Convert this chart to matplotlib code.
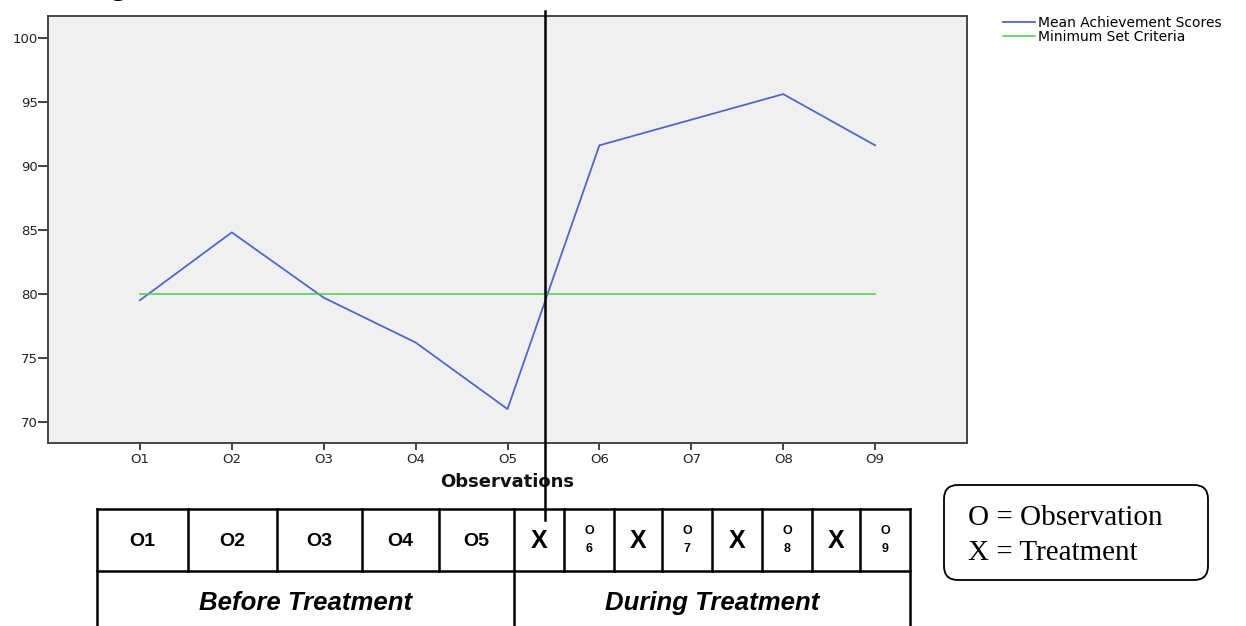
import numpy as np
import matplotlib
matplotlib.use("Agg")
import matplotlib.pyplot as plt
from matplotlib.patches import FancyBboxPatch
from matplotlib.transforms import blended_transform_factory

# data
obs_labels = ["O1", "O2", "O3", "O4", "O5", "O6", "O7", "O8", "O9"]
mean_scores = [79.5, 84.8, 79.7, 76.2, 71.0, 91.6, 93.6, 95.6, 91.6]
criteria = [80, 80, 80, 80, 80, 80, 80, 80, 80]
y_ticks = [70, 75, 80, 85, 90, 95, 100]

# design table below the chart
row1_cells = ["O1", "O2", "O3", "O4", "O5", "X", ("O", "6"), "X", ("O", "7"),
              "X", ("O", "8"), "X", ("O", "9")]
row2_cells = ["Before Treatment", "During Treatment"]
key_lines = ["O = Observation", "X = Treatment"]

W, H = 1246, 626
fig = plt.figure(figsize=(W / 100, H / 100), dpi=100)
ax = fig.add_axes([48 / W, 1 - 443 / H, (967 - 48) / W, (443 - 16) / H])
ax.set_facecolor("#f0f0f0")

x = np.arange(1, len(obs_labels) + 1)
l1, = ax.plot(x, mean_scores, color="#4f69c6", lw=1.3)
l2, = ax.plot(x, criteria, color="#4fc84f", lw=1.1)

ax.set_xlim(0, 10)
ax.set_ylim(68.35, 101.7)
ax.set_xticks(x)
ax.set_xticklabels(obs_labels)
ax.set_yticks(y_ticks)
for s in ax.spines.values():
    s.set_color("#444444")
    s.set_linewidth(1.4)
ax.tick_params(axis="y", direction="out", length=7, width=1.4, color="#444444",
               labelsize=9.5, pad=0.5, labelcolor="#222222")
ax.tick_params(axis="x", direction="out", length=5, width=1.4, color="#444444",
               labelsize=9.5, pad=2, labelcolor="#222222")
ax.set_xlabel("Observations", fontsize=13, fontweight="bold", va="center",
              color="#111111")
ax.xaxis.set_label_coords(0.5, -0.092)

fig.legend([l1, l2], ["Mean Achievement Scores", "Minimum Set Criteria"],
           loc="upper left", bbox_to_anchor=(1003 / W, 1 - 16 / H),
           frameon=False, fontsize=10, handlelength=2.3, handletextpad=0.2,
           labelspacing=0.0, borderpad=0, borderaxespad=0)

# treatment start line, crosses the plot and runs into the table
split_x = 5.41
tr = blended_transform_factory(ax.transData, fig.transFigure)
ax.plot([split_x, split_x], [1 - 11 / H, 1 - 520 / H], color="black", lw=1.8,
        transform=tr, clip_on=False, zorder=5)

# overlay in pixel units for the table and key box
ov = fig.add_axes([0, 0, 1, 1], zorder=-1)
ov.set_xlim(0, W)
ov.set_ylim(H, 0)
ov.axis("off")

cols = [97, 188, 277, 362, 439, 514, 564, 614, 662, 712, 762, 812, 860, 910]
top, mid, bot = 509, 571, 630
lw = 1.8
ov.plot([cols[0], cols[-1]], [top, top], color="black", lw=lw)
ov.plot([cols[0], cols[-1]], [mid, mid], color="black", lw=lw)
for c in cols:
    if c in (cols[0], cols[5], cols[-1]):
        ov.plot([c, c], [top, bot], color="black", lw=lw)
    else:
        ov.plot([c, c], [top, mid], color="black", lw=lw)

cy = (top + mid) / 2
for i, cell in enumerate(row1_cells):
    cx = (cols[i] + cols[i + 1]) / 2
    if isinstance(cell, tuple):
        ov.text(cx, cy - 9, cell[0], ha="center", va="center", fontsize=9,
                fontweight="bold", family="Liberation Sans")
        ov.text(cx, cy + 9, cell[1], ha="center", va="center", fontsize=9,
                fontweight="bold", family="Liberation Sans")
    elif cell == "X":
        ov.text(cx, cy + 1, cell, ha="center", va="center", fontsize=18,
                fontweight="bold", family="Liberation Sans")
    else:
        ov.text(cx, cy + 1, cell, ha="center", va="center", fontsize=14,
                fontweight="bold", family="Liberation Sans")

ov.text((cols[0] + cols[5]) / 2, 603, row2_cells[0], ha="center", va="center",
        fontsize=18.5, fontweight="bold", style="italic", family="Liberation Sans")
ov.text((cols[5] + cols[-1]) / 2, 603, row2_cells[1], ha="center", va="center",
        fontsize=18.5, fontweight="bold", style="italic", family="Liberation Sans")

box = FancyBboxPatch((944, 485), 264, 95, boxstyle="round,pad=0,rounding_size=14",
                     fc="white", ec="black", lw=1.3)
ov.add_patch(box)
ov.text(968, 518, key_lines[0], ha="left", va="center", fontsize=21,
        family="Liberation Serif")
ov.text(968, 553, key_lines[1], ha="left", va="center", fontsize=21,
        family="Liberation Serif")

# cut-off caption fragment at the very top
fig.text(118 / W, 1 + 6 / H, "g", ha="center", va="baseline", fontsize=22,
         fontweight="bold", family="Liberation Serif")

fig.savefig("out.png", dpi=100)
